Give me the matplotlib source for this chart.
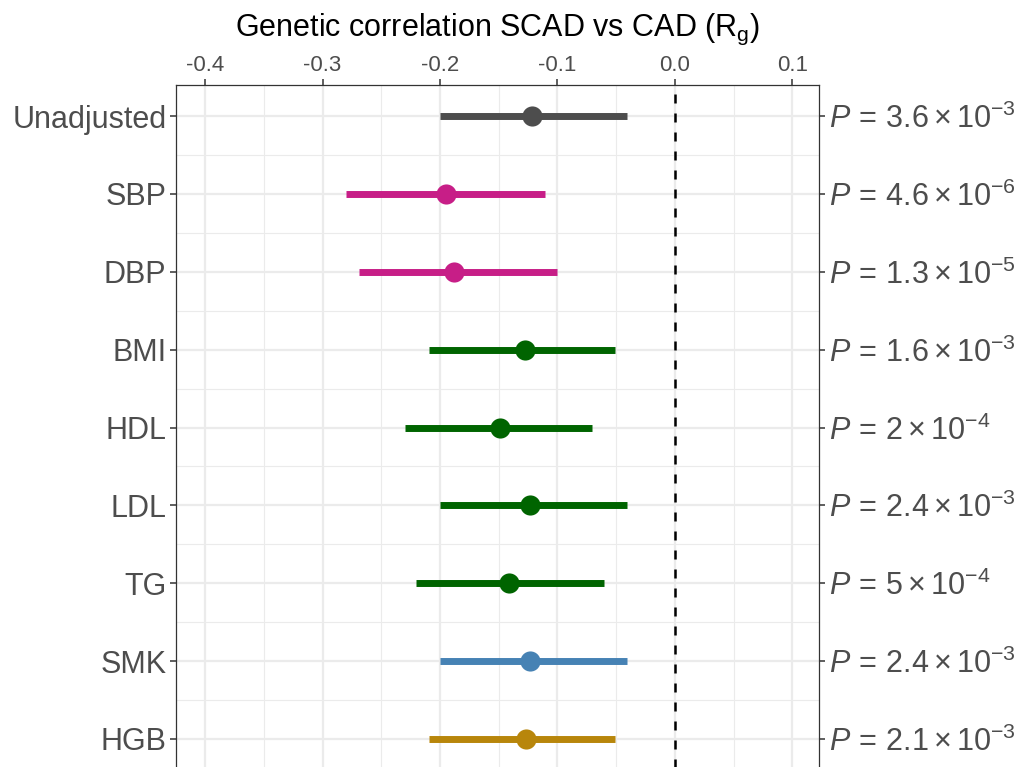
import matplotlib
matplotlib.use("Agg")
import matplotlib.pyplot as plt
from matplotlib.ticker import FixedLocator

plt.rcParams['font.family'] = ['Liberation Sans', 'DejaVu Sans']
plt.rcParams['mathtext.fontset'] = 'custom'
plt.rcParams['mathtext.rm'] = 'Liberation Sans'
plt.rcParams['mathtext.it'] = 'Liberation Sans:italic'
plt.rcParams['mathtext.bf'] = 'Liberation Sans:bold'

# ---- data ----
traits = ["Unadjusted", "SBP", "DBP", "BMI", "HDL", "LDL", "TG", "SMK", "HGB"]
rg = [-0.122, -0.195, -0.188, -0.128, -0.149, -0.123, -0.141, -0.123, -0.127]
ci_low = [-0.200, -0.280, -0.269, -0.209, -0.230, -0.200, -0.220, -0.200, -0.209]
ci_high = [-0.041, -0.111, -0.100, -0.051, -0.071, -0.041, -0.060, -0.041, -0.051]
p_mant = ["3.6", "4.6", "1.3", "1.6", "2", "2.4", "5", "2.4", "2.1"]
p_exp = ["-3", "-6", "-5", "-3", "-4", "-3", "-4", "-3", "-3"]
colors = ["#4D4D4D", "#C71E87", "#C71E87", "#006400", "#006400", "#006400",
          "#006400", "#4682B4", "#B8860B"]
x_ticks = [-0.4, -0.3, -0.2, -0.1, 0.0, 0.1]
x_ticklabels = ["-0.4", "-0.3", "-0.2", "-0.1", "0.0", "0.1"]

p_labels = [r"$P\,=\,%s\times10^{%s}$" % (m, e) for m, e in zip(p_mant, p_exp)]

W, H = 1022, 767
fig = plt.figure(figsize=(W / 100, H / 100), dpi=100)
left, right, top, bottom = 176, 819, 85, 770
ax = fig.add_axes([left / W, 1 - bottom / H, (right - left) / W, (bottom - top) / H])

ypos = list(range(len(traits)))
ax.set_xlim(-0.4247, 0.1226)
ax.set_ylim(len(traits) - 1 + 0.4, -0.4)

# grid
ax.xaxis.set_major_locator(FixedLocator(x_ticks))
ax.xaxis.set_minor_locator(FixedLocator([-0.35, -0.25, -0.15, -0.05, 0.05]))
ax.yaxis.set_major_locator(FixedLocator(ypos))
ax.yaxis.set_minor_locator(FixedLocator([i + 0.5 for i in ypos[:-1]]))
ax.grid(which='major', color='#EBEBEB', linewidth=1.6, zorder=0)
ax.grid(which='minor', color='#EBEBEB', linewidth=0.8, zorder=0)
ax.set_axisbelow(True)

ax.axvline(0, color='black', linestyle=(0, (3.6, 4.0)), linewidth=1.8, zorder=1)

for i in ypos:
    ax.plot([ci_low[i], ci_high[i]], [i, i], color=colors[i], linewidth=5,
            solid_capstyle='butt', zorder=2)
    ax.plot(rg[i], i, 'o', color=colors[i], markersize=14.5, zorder=3,
            markeredgewidth=0)

for s in ax.spines.values():
    s.set_color('#333333')
    s.set_linewidth(0.9)

ax.xaxis.tick_top()
ax.set_xticklabels(x_ticklabels)
ax.tick_params(axis='x', which='major', top=True, bottom=False, length=4,
               width=1.1, color='#333333', labelsize=16, labelcolor='#4D4D4D', pad=2.5)
ax.tick_params(axis='both', which='minor', length=0)
ax.set_yticklabels(traits)
ax.tick_params(axis='y', which='major', length=4, width=1.1, color='#333333',
               labelsize=22, labelcolor='#4D4D4D', pad=3)

ax2 = ax.twinx()
ax2.set_ylim(ax.get_ylim())
ax2.yaxis.set_major_locator(FixedLocator(ypos))
ax2.set_yticklabels(p_labels)
ax2.tick_params(axis='y', which='major', length=4, width=1.1, color='#333333',
                labelsize=22, labelcolor='#4D4D4D', pad=3)
ax2.tick_params(axis='y', which='minor', length=0)
for s in ax2.spines.values():
    s.set_visible(False)

fig.text((left + right) / 2 / W, 1 - 36 / H,
         r"Genetic correlation SCAD vs CAD (R$_\mathrm{g}$)",
         ha='center', va='baseline', fontsize=22, color='black')

fig.savefig("out.png", dpi=100)
